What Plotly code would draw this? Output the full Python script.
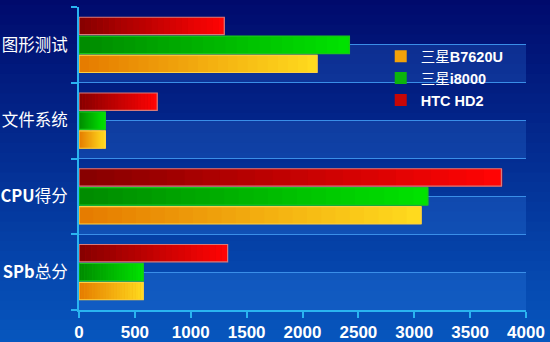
import plotly.graph_objects as go

categories = ["图形测试", "文件系统", "<b>CPU</b>得分", "<b>SPb</b>总分"]
series_names = ["三星<b>B7620U</b>", "三星<b>i8000</b>", "<b>HTC HD2</b>"]
b7620u = [2130, 235, 3060, 575]
i8000 = [2420, 235, 3120, 575]
htchd2 = [1300, 700, 3780, 1330]
x_ticks = [0, 500, 1000, 1500, 2000, 2500, 3000, 3500, 4000]

n = len(categories)
ypos = [n - 1 - i for i in range(n)]  # first category at top

grad_left = [(230, 124, 0), (0, 140, 0), (136, 0, 0)]
grad_right = [(255, 218, 30), (0, 226, 0), (255, 4, 4)]
legend_colors = ["#f2a20a", "#0cb40c", "#c80606"]
line_colors = ["#ffd040", "#18c818", "#d87a7a"]
values = [b7620u, i8000, htchd2]

K = 24
fig = go.Figure()
for s, (name, vals) in enumerate(zip(series_names, values)):
    g = "s%d" % s
    # legend / base bar
    fig.add_trace(go.Bar(
        x=vals, y=ypos, orientation="h", name=name, offsetgroup=g,
        marker=dict(color=legend_colors[s], line=dict(width=0)),
    ))
    # gradient segments
    for j in range(K):
        t = j / (K - 1)
        col = tuple(int(grad_left[s][k] + (grad_right[s][k] - grad_left[s][k]) * t) for k in range(3))
        fig.add_trace(go.Bar(
            x=[v / K * 1.05 for v in vals], base=[v * j / K for v in vals],
            y=ypos, orientation="h", offsetgroup=g, showlegend=False,
            marker=dict(color="rgb(%d,%d,%d)" % col, line=dict(width=0)),
            hoverinfo="skip",
        ))
    # outline
    fig.add_trace(go.Bar(
        x=vals, y=ypos, orientation="h", offsetgroup=g, showlegend=False,
        marker=dict(color="rgba(0,0,0,0)", line=dict(color=line_colors[s], width=1.2)),
        hoverinfo="skip",
    ))

shapes = []
# background vertical gradient
top = (0, 6, 104)
bot = (8, 92, 196)
steps = 40
for i in range(steps):
    t = i / (steps - 1)
    col = tuple(int(top[k] + (bot[k] - top[k]) * t) for k in range(3))
    shapes.append(dict(type="rect", xref="paper", yref="paper",
                       x0=-0.3, x1=1.2, y0=1.1 - (i + 1) * 1.3 / steps, y1=1.1 - i * 1.3 / steps + 0.005,
                       fillcolor="rgb(%d,%d,%d)" % col, line=dict(width=0), layer="below"))
# alternating lighter bands
for p in ypos:
    shapes.append(dict(type="rect", xref="paper", yref="y", x0=0, x1=1,
                       y0=p - 0.5, y1=p, fillcolor="rgba(60,140,240,0.22)",
                       line=dict(width=0), layer="below"))

fig.update_layout(
    width=550, height=342,
    margin=dict(l=79, r=24, t=7, b=32),
    paper_bgcolor="#0a2a90",
    plot_bgcolor="rgba(0,0,0,0)",
    barmode="group", bargap=0.25, bargroupgap=0.08,
    shapes=shapes,
    showlegend=True,
    legend=dict(x=0.675, y=0.89, xanchor="left", yanchor="top",
                bgcolor="rgba(0,0,0,0)", traceorder="normal",
                font=dict(family="Liberation Sans, Noto Sans CJK SC", size=14.5, color="white"),
                itemwidth=30, tracegroupgap=0),
    xaxis=dict(range=[0, 4000], tickvals=x_ticks, showgrid=False, zeroline=False,
               automargin=False,
               showline=True, linecolor="#2ab4f0", linewidth=2,
               ticks="outside", ticklen=6, tickcolor="#2ab4f0", tickwidth=2,
               tickfont=dict(family="Liberation Sans", size=17, color="white", weight="bold")),
    yaxis=dict(range=[-0.5, n - 0.5], tickvals=ypos, ticktext=categories,
               automargin=False,
               showgrid=True, gridcolor="#3a8ee8", gridwidth=1, zeroline=False,
               showline=True, linecolor="#2ab4f0", linewidth=2, ticks="", ticklen=0,
               ticklabelstandoff=6,
               minor=dict(tickvals=[p - 0.5 for p in ypos] + [n - 0.5], ticks="outside",
                          ticklen=6, tickcolor="#2ab4f0", tickwidth=2,
                          showgrid=True, gridcolor="#3a8ee8", gridwidth=1),
               tickfont=dict(family="Noto Sans CJK SC, Liberation Sans", size=16.5, color="white")),
)
fig.write_html("out.html")
